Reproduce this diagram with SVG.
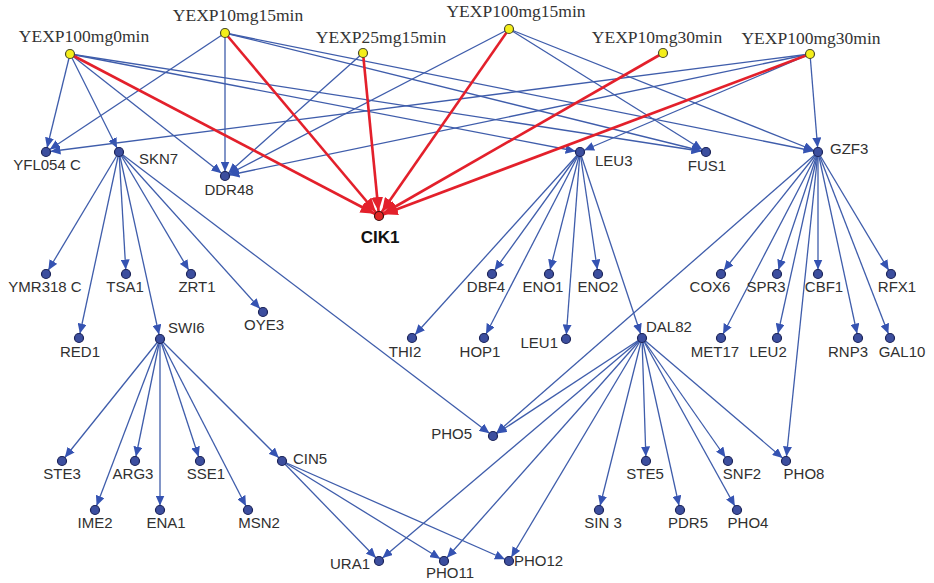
<svg xmlns="http://www.w3.org/2000/svg" width="934" height="583" viewBox="0 0 934 583">
<style>
.e{stroke:#3f5dab;stroke-width:1.3;fill:none;marker-end:url(#ab)}
.r{stroke:#e3202b;stroke-width:2.6;fill:none;marker-end:url(#ar)}
.g{fill:#3c4e9e;stroke:#1b2358;stroke-width:1.2}
.s{fill:#f4ee1a;stroke:#4a4a2a;stroke-width:1.2}
.c{fill:#e02525;stroke:#3a1010;stroke-width:1.2}
.t{font-family:"Liberation Sans",Arial,sans-serif;font-size:15px;fill:#303030}
.m{text-anchor:middle}
.en{text-anchor:end}
.st{font-family:"Liberation Serif","Times New Roman",serif;font-size:17.5px;fill:#333;text-anchor:middle}
.b{font-family:"Liberation Sans",Arial,sans-serif;font-size:17px;font-weight:bold;fill:#111;text-anchor:middle}
</style>
<defs>
<marker id="ab" viewBox="0 0 10 9" refX="14.5" refY="4.5" markerWidth="10" markerHeight="9" markerUnits="userSpaceOnUse" orient="auto"><path d="M0,0 L10,4.5 L0,9 z" fill="#3553b2"/></marker>
<marker id="ar" viewBox="0 0 14 12" refX="19" refY="6" markerWidth="14" markerHeight="12" markerUnits="userSpaceOnUse" orient="auto"><path d="M0,0 L14,6 L0,12 z" fill="#e3202b"/></marker>
</defs>
<rect width="934" height="583" fill="#fff"/>
<g id="edges">
<line class="e" x1="70" y1="54" x2="46" y2="152"/>
<line class="e" x1="70" y1="54" x2="119" y2="152"/>
<line class="e" x1="70" y1="54" x2="225" y2="176"/>
<line class="e" x1="70" y1="54" x2="580" y2="152"/>
<line class="e" x1="70" y1="54" x2="706" y2="152"/>
<line class="e" x1="225" y1="33" x2="46" y2="152"/>
<line class="e" x1="225" y1="33" x2="225" y2="176"/>
<line class="e" x1="225" y1="33" x2="706" y2="152"/>
<line class="e" x1="225" y1="33" x2="818" y2="152"/>
<line class="e" x1="363" y1="53" x2="225" y2="176"/>
<line class="e" x1="509" y1="29" x2="225" y2="176"/>
<line class="e" x1="509" y1="29" x2="706" y2="152"/>
<line class="e" x1="509" y1="29" x2="818" y2="152"/>
<line class="e" x1="810" y1="54" x2="46" y2="152"/>
<line class="e" x1="810" y1="54" x2="225" y2="176"/>
<line class="e" x1="810" y1="54" x2="580" y2="152"/>
<line class="e" x1="810" y1="54" x2="818" y2="152"/>
<line class="e" x1="119" y1="152" x2="46" y2="274"/>
<line class="e" x1="119" y1="152" x2="79" y2="338"/>
<line class="e" x1="119" y1="152" x2="126" y2="274"/>
<line class="e" x1="119" y1="152" x2="160" y2="339"/>
<line class="e" x1="119" y1="152" x2="191" y2="274"/>
<line class="e" x1="119" y1="152" x2="263" y2="312"/>
<line class="e" x1="119" y1="152" x2="493" y2="436"/>
<line class="e" x1="160" y1="339" x2="62" y2="461"/>
<line class="e" x1="160" y1="339" x2="95" y2="510"/>
<line class="e" x1="160" y1="339" x2="135" y2="461"/>
<line class="e" x1="160" y1="339" x2="160" y2="510"/>
<line class="e" x1="160" y1="339" x2="200" y2="461"/>
<line class="e" x1="160" y1="339" x2="248" y2="510"/>
<line class="e" x1="160" y1="339" x2="282" y2="461"/>
<line class="e" x1="282" y1="461" x2="379" y2="561"/>
<line class="e" x1="282" y1="461" x2="444" y2="561"/>
<line class="e" x1="282" y1="461" x2="509" y2="561"/>
<line class="e" x1="580" y1="152" x2="412" y2="338"/>
<line class="e" x1="580" y1="152" x2="492" y2="274"/>
<line class="e" x1="580" y1="152" x2="484" y2="338"/>
<line class="e" x1="580" y1="152" x2="549" y2="274"/>
<line class="e" x1="580" y1="152" x2="566" y2="339"/>
<line class="e" x1="580" y1="152" x2="598" y2="274"/>
<line class="e" x1="580" y1="152" x2="642" y2="338"/>
<line class="e" x1="818" y1="152" x2="493" y2="436"/>
<line class="e" x1="818" y1="152" x2="721" y2="274"/>
<line class="e" x1="818" y1="152" x2="721" y2="338"/>
<line class="e" x1="818" y1="152" x2="777" y2="274"/>
<line class="e" x1="818" y1="152" x2="777" y2="338"/>
<line class="e" x1="818" y1="152" x2="786" y2="461"/>
<line class="e" x1="818" y1="152" x2="818" y2="274"/>
<line class="e" x1="818" y1="152" x2="858" y2="338"/>
<line class="e" x1="818" y1="152" x2="890" y2="338"/>
<line class="e" x1="818" y1="152" x2="891" y2="274"/>
<line class="e" x1="642" y1="338" x2="493" y2="436"/>
<line class="e" x1="642" y1="338" x2="379" y2="561"/>
<line class="e" x1="642" y1="338" x2="444" y2="561"/>
<line class="e" x1="642" y1="338" x2="509" y2="561"/>
<line class="e" x1="642" y1="338" x2="599" y2="510"/>
<line class="e" x1="642" y1="338" x2="646" y2="461"/>
<line class="e" x1="642" y1="338" x2="680" y2="510"/>
<line class="e" x1="642" y1="338" x2="728" y2="461"/>
<line class="e" x1="642" y1="338" x2="737" y2="510"/>
<line class="e" x1="642" y1="338" x2="786" y2="461"/>
<line class="r" x1="70" y1="54" x2="379" y2="216"/>
<line class="r" x1="225" y1="33" x2="379" y2="216"/>
<line class="r" x1="363" y1="53" x2="379" y2="216"/>
<line class="r" x1="509" y1="29" x2="379" y2="216"/>
<line class="r" x1="663" y1="53" x2="379" y2="216"/>
<line class="r" x1="810" y1="54" x2="379" y2="216"/>
</g>
<g id="YEXP100mg0min"><circle class="s" cx="70" cy="54" r="4.5"/><text class="st" x="84" y="42">YEXP100mg0min</text></g>
<g id="YEXP10mg15min"><circle class="s" cx="225" cy="33" r="4.5"/><text class="st" x="238" y="21">YEXP10mg15min</text></g>
<g id="YEXP25mg15min"><circle class="s" cx="363" cy="53" r="4.5"/><text class="st" x="381" y="43">YEXP25mg15min</text></g>
<g id="YEXP100mg15min"><circle class="s" cx="509" cy="29" r="4.5"/><text class="st" x="516" y="17">YEXP100mg15min</text></g>
<g id="YEXP10mg30min"><circle class="s" cx="663" cy="53" r="4.5"/><text class="st" x="657" y="43">YEXP10mg30min</text></g>
<g id="YEXP100mg30min"><circle class="s" cx="810" cy="54" r="4.5"/><text class="st" x="811" y="44">YEXP100mg30min</text></g>
<g id="CIK1"><circle class="c" cx="379" cy="216" r="4.5"/><text class="b" x="380" y="243">CIK1</text></g>
<g id="YFL054C"><circle class="g" cx="46" cy="152" r="4.5"/><text class="t m" x="47" y="170">YFL054 C</text></g>
<g id="SKN7"><circle class="g" cx="119" cy="152" r="4.5"/><text class="t" x="139" y="164">SKN7</text></g>
<g id="DDR48"><circle class="g" cx="225" cy="176" r="4.5"/><text class="t m" x="229" y="195">DDR48</text></g>
<g id="LEU3"><circle class="g" cx="580" cy="152" r="4.5"/><text class="t" x="595" y="166">LEU3</text></g>
<g id="FUS1"><circle class="g" cx="706" cy="152" r="4.5"/><text class="t m" x="707" y="171">FUS1</text></g>
<g id="GZF3"><circle class="g" cx="818" cy="152" r="4.5"/><text class="t" x="830" y="154">GZF3</text></g>
<g id="YMR318C"><circle class="g" cx="46" cy="274" r="4.5"/><text class="t m" x="45" y="292">YMR318 C</text></g>
<g id="TSA1"><circle class="g" cx="126" cy="274" r="4.5"/><text class="t m" x="125" y="292">TSA1</text></g>
<g id="ZRT1"><circle class="g" cx="191" cy="274" r="4.5"/><text class="t m" x="197" y="292">ZRT1</text></g>
<g id="OYE3"><circle class="g" cx="263" cy="312" r="4.5"/><text class="t m" x="264" y="330">OYE3</text></g>
<g id="RED1"><circle class="g" cx="79" cy="338" r="4.5"/><text class="t m" x="80" y="357">RED1</text></g>
<g id="SWI6"><circle class="g" cx="160" cy="339" r="4.5"/><text class="t" x="168" y="333">SWI6</text></g>
<g id="DBF4"><circle class="g" cx="492" cy="274" r="4.5"/><text class="t m" x="486" y="292">DBF4</text></g>
<g id="ENO1"><circle class="g" cx="549" cy="274" r="4.5"/><text class="t m" x="543" y="292">ENO1</text></g>
<g id="ENO2"><circle class="g" cx="598" cy="274" r="4.5"/><text class="t m" x="598" y="292">ENO2</text></g>
<g id="THI2"><circle class="g" cx="412" cy="338" r="4.5"/><text class="t m" x="405" y="357">THI2</text></g>
<g id="HOP1"><circle class="g" cx="484" cy="338" r="4.5"/><text class="t m" x="480" y="357">HOP1</text></g>
<g id="LEU1"><circle class="g" cx="566" cy="339" r="4.5"/><text class="t en" x="558" y="348">LEU1</text></g>
<g id="COX6"><circle class="g" cx="721" cy="274" r="4.5"/><text class="t m" x="710" y="292">COX6</text></g>
<g id="SPR3"><circle class="g" cx="777" cy="274" r="4.5"/><text class="t m" x="766" y="292">SPR3</text></g>
<g id="CBF1"><circle class="g" cx="818" cy="274" r="4.5"/><text class="t m" x="824" y="292">CBF1</text></g>
<g id="RFX1"><circle class="g" cx="891" cy="274" r="4.5"/><text class="t m" x="897" y="292">RFX1</text></g>
<g id="DAL82"><circle class="g" cx="642" cy="338" r="4.5"/><text class="t" x="646" y="332">DAL82</text></g>
<g id="MET17"><circle class="g" cx="721" cy="338" r="4.5"/><text class="t m" x="715" y="357">MET17</text></g>
<g id="LEU2"><circle class="g" cx="777" cy="338" r="4.5"/><text class="t m" x="768" y="357">LEU2</text></g>
<g id="RNP3"><circle class="g" cx="858" cy="338" r="4.5"/><text class="t m" x="848" y="357">RNP3</text></g>
<g id="GAL10"><circle class="g" cx="890" cy="338" r="4.5"/><text class="t m" x="902" y="357">GAL10</text></g>
<g id="STE3"><circle class="g" cx="62" cy="461" r="4.5"/><text class="t m" x="62" y="479">STE3</text></g>
<g id="ARG3"><circle class="g" cx="135" cy="461" r="4.5"/><text class="t m" x="133" y="479">ARG3</text></g>
<g id="SSE1"><circle class="g" cx="200" cy="461" r="4.5"/><text class="t m" x="206" y="479">SSE1</text></g>
<g id="CIN5"><circle class="g" cx="282" cy="461" r="4.5"/><text class="t" x="293" y="464">CIN5</text></g>
<g id="IME2"><circle class="g" cx="95" cy="510" r="4.5"/><text class="t m" x="95" y="528">IME2</text></g>
<g id="ENA1"><circle class="g" cx="160" cy="510" r="4.5"/><text class="t m" x="166" y="528">ENA1</text></g>
<g id="MSN2"><circle class="g" cx="248" cy="510" r="4.5"/><text class="t m" x="259" y="528">MSN2</text></g>
<g id="PHO5"><circle class="g" cx="493" cy="436" r="4.5"/><text class="t en" x="472" y="439">PHO5</text></g>
<g id="URA1"><circle class="g" cx="379" cy="561" r="4.5"/><text class="t en" x="370" y="569">URA1</text></g>
<g id="PHO11"><circle class="g" cx="444" cy="561" r="4.5"/><text class="t m" x="450" y="578">PHO11</text></g>
<g id="PHO12"><circle class="g" cx="509" cy="561" r="4.5"/><text class="t" x="514" y="566">PHO12</text></g>
<g id="SIN3"><circle class="g" cx="599" cy="510" r="4.5"/><text class="t m" x="603" y="528">SIN 3</text></g>
<g id="STE5"><circle class="g" cx="646" cy="461" r="4.5"/><text class="t m" x="645" y="479">STE5</text></g>
<g id="SNF2"><circle class="g" cx="728" cy="461" r="4.5"/><text class="t m" x="742" y="479">SNF2</text></g>
<g id="PHO8"><circle class="g" cx="786" cy="461" r="4.5"/><text class="t m" x="804" y="479">PHO8</text></g>
<g id="PDR5"><circle class="g" cx="680" cy="510" r="4.5"/><text class="t m" x="688" y="528">PDR5</text></g>
<g id="PHO4"><circle class="g" cx="737" cy="510" r="4.5"/><text class="t m" x="748" y="528">PHO4</text></g>
</svg>
